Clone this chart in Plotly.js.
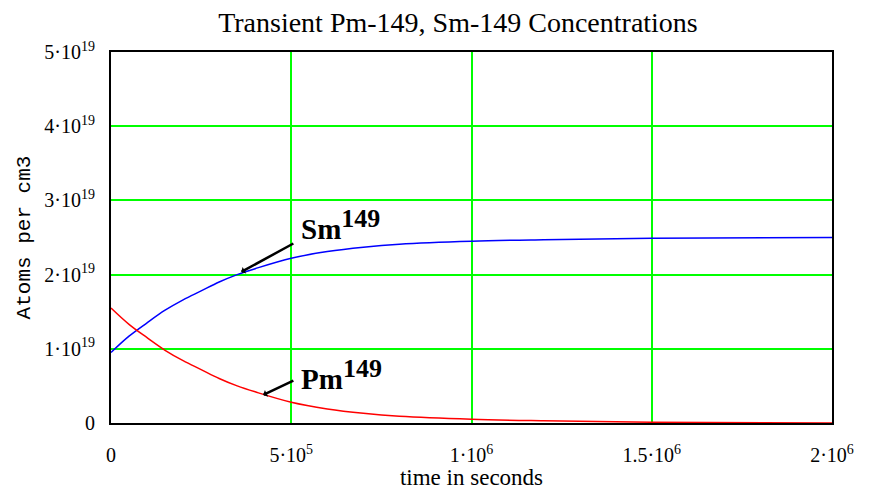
<!DOCTYPE html>
<html>
<head>
<meta charset="utf-8">
<script src="https://cdn.plot.ly/plotly-3.0.1.min.js"></script>
<style>html,body{margin:0;padding:0;background:#fff;}#chart{width:869px;height:490px;}</style>
</head>
<body>
<div id="chart"></div>
<script>
// time in seconds
const timeSec = [0, 5e4, 1e5, 1.5e5, 2e5, 2.5e5, 3e5, 3.5e5, 4e5, 5e5, 6e5, 7e5, 8e5, 1e6, 1.2e6, 1.5e6, 2e6];
// Sm-149 concentration (atoms per cm3)
const sm149 = [0.95e19, 1.17e19, 1.35e19, 1.52e19, 1.66e19, 1.78e19, 1.9e19, 2.0e19, 2.08e19, 2.22e19, 2.31e19, 2.37e19, 2.41e19, 2.45e19, 2.47e19, 2.49e19, 2.5e19];
// Pm-149 concentration (atoms per cm3)
const pm149 = [1.55e19, 1.33e19, 1.15e19, 0.98e19, 0.84e19, 0.72e19, 0.6e19, 0.5e19, 0.42e19, 0.28e19, 0.19e19, 0.13e19, 0.09e19, 0.05e19, 0.03e19, 0.01e19, 0.0];

const xTickVals = [0, 5e5, 1e6, 1.5e6, 2e6];
const xTickText = ['0', '5·10<sup>5</sup>', '1·10<sup>6</sup>', '1.5·10<sup>6</sup>', '2·10<sup>6</sup>'];
const yTickVals = [0, 1e19, 2e19, 3e19, 4e19, 5e19];
const yTickText = ['0', '1·10<sup>19</sup>', '2·10<sup>19</sup>', '3·10<sup>19</sup>', '4·10<sup>19</sup>', '5·10<sup>19</sup>'];

const serif = 'Liberation Serif, Times New Roman, serif';
const mono = 'Liberation Mono, Courier New, monospace';

const traces = [
  {x: timeSec, y: sm149, mode: 'lines', line: {color: '#0000ff', width: 1.5, shape: 'spline'}, name: 'Sm-149', hoverinfo: 'none'},
  {x: timeSec, y: pm149, mode: 'lines', line: {color: '#ff0000', width: 1.5, shape: 'spline'}, name: 'Pm-149', hoverinfo: 'none'}
];

const layout = {
  width: 869, height: 490,
  margin: {l: 111, r: 37, t: 52, b: 67},
  paper_bgcolor: '#ffffff', plot_bgcolor: '#ffffff',
  showlegend: false,
  font: {family: serif, color: '#000', size: 20},
  title: {text: 'Transient Pm-149, Sm-149 Concentrations', font: {family: serif, size: 28, color: '#000'},
          xref: 'container', x: 0.527, xanchor: 'center', yref: 'container', y: 0.955, yanchor: 'middle'},
  xaxis: {
    range: [0, 2e6], tickvals: xTickVals, ticktext: xTickText,
    showgrid: true, gridcolor: '#00ff00', gridwidth: 2,
    showline: true, linecolor: '#000', linewidth: 2, mirror: true,
    ticks: '', zeroline: false, ticklabelstandoff: 13,
    tickfont: {family: serif, size: 20, color: '#000'},
    title: {text: 'time in seconds', font: {family: serif, size: 23, color: '#000'}, standoff: 2}
  },
  yaxis: {
    range: [0, 5e19], tickvals: yTickVals, ticktext: yTickText,
    showgrid: true, gridcolor: '#00ff00', gridwidth: 2,
    showline: true, linecolor: '#000', linewidth: 2, mirror: true,
    ticks: '', zeroline: false, ticklabelstandoff: 10,
    tickfont: {family: serif, size: 20, color: '#000'},
    title: {text: 'Atoms per cm3', font: {family: mono, size: 21, color: '#000'}, standoff: 8}
  },
  annotations: [
    {x: 3.61e5, y: 2.035e19, ax: 5.1e5, ay: 2.43e19, axref: 'x', ayref: 'y', xref: 'x', yref: 'y',
     text: '', showarrow: true, arrowhead: 1, arrowsize: 0.5, arrowwidth: 2.5, arrowcolor: '#000'},
    {x: 4.22e5, y: 0.377e19, ax: 5.1e5, ay: 0.58e19, axref: 'x', ayref: 'y', xref: 'x', yref: 'y',
     text: '', showarrow: true, arrowhead: 1, arrowsize: 0.5, arrowwidth: 2.5, arrowcolor: '#000'},
    {x: 5.21e5, y: 2.68e19, xref: 'x', yref: 'y', xanchor: 'left', yanchor: 'middle', showarrow: false,
     text: '<b>Sm<sup><span style="font-size:26px">149</span></sup></b>', font: {family: serif, size: 29, color: '#000'}},
    {x: 5.21e5, y: 0.647e19, xref: 'x', yref: 'y', xanchor: 'left', yanchor: 'middle', showarrow: false,
     text: '<b>Pm<sup><span style="font-size:26px">149</span></sup></b>', font: {family: serif, size: 29, color: '#000'}}
  ]
};

Plotly.newPlot('chart', traces, layout, {staticPlot: true, displayModeBar: false});
</script>
</body>
</html>
